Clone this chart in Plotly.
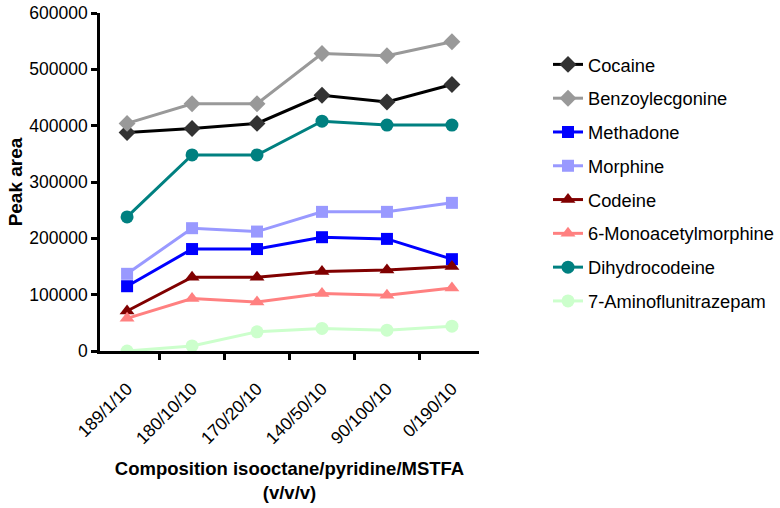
import plotly.graph_objects as go

categories = ["189/1/10", "180/10/10", "170/20/10", "140/50/10", "90/100/10", "0/190/10"]

cocaine = [388000, 395000, 404000, 454000, 442000, 473000]
benzoylecgonine = [404000, 439000, 439000, 528000, 524000, 549000]
methadone = [115000, 181000, 181000, 202000, 199000, 163000]
morphine = [137000, 218000, 212000, 247000, 247000, 263000]
codeine = [71000, 131000, 131000, 141000, 144000, 150000]
monoacetylmorphine = [58000, 93000, 87000, 102000, 99000, 112000]
dihydrocodeine = [238000, 348000, 348000, 408000, 401000, 401000]
aminoflunitrazepam = [0, 9000, 34000, 40000, 37000, 44000]

y_ticks = [0, 100000, 200000, 300000, 400000, 500000, 600000]

series = [
    ("Cocaine", cocaine, "#000000", "#333333", "diamond", 13),
    ("Benzoylecgonine", benzoylecgonine, "#999999", "#999999", "diamond", 13),
    ("Methadone", methadone, "#0000ff", "#0000ff", "square", 12),
    ("Morphine", morphine, "#9999ff", "#9999ff", "square", 12),
    ("Codeine", codeine, "#800000", "#800000", "triangle-up", 13),
    ("6-Monoacetylmorphine", monoacetylmorphine, "#ff8080", "#ff8080", "triangle-up", 13),
    ("Dihydrocodeine", dihydrocodeine, "#008080", "#008080", "circle", 13),
    ("7-Aminoflunitrazepam", aminoflunitrazepam, "#ccffcc", "#ccffcc", "circle", 13),
]

fig = go.Figure()
for name, vals, lc, mc, sym, sz in series:
    fig.add_trace(go.Scatter(
        x=categories, y=vals, name=name, mode="lines+markers",
        legendgroup=name,
        line=dict(color=lc, width=3),
        marker=dict(color=mc, symbol=sym, size=sz),
    ))

font_family = "Liberation Sans, Arial, sans-serif"
W, H = 780, 508
L, T, PW, PH = 100, 13, 379, 338
fig.update_layout(
    width=W, height=H,
    margin=dict(l=L, r=W - L - PW, t=T, b=H - T - PH, autoexpand=False),
    paper_bgcolor="white", plot_bgcolor="white",
    font=dict(family=font_family, size=17.5, color="black"),
    showlegend=True,
    legend=dict(
        x=(548 - L) / PW, xanchor="left", y=(T + PH - 46) / PH, yanchor="top",
        font=dict(size=18.3), tracegroupgap=7,
        traceorder="grouped", bgcolor="rgba(0,0,0,0)",
    ),
    xaxis=dict(
        type="category", tickson="boundaries", automargin=False,
        showline=True, linecolor="black", linewidth=2.5,
        ticks="outside", ticklen=6, tickwidth=2.5, tickcolor="black",
        tickangle=-45, showgrid=False, zeroline=False,
        ticklabelstandoff=18, tickfont=dict(size=17.5),
        ticklabeloverflow="allow",
        title=dict(text="<b>Composition isooctane/pyridine/MSTFA<br>(v/v/v)</b>",
                   font=dict(size=18.5), standoff=15),
    ),
    yaxis=dict(
        range=[0, 600000], tickvals=y_ticks, ticktext=[str(v) for v in y_ticks],
        automargin=False, ticklabeloverflow="allow",
        showline=True, linecolor="black", linewidth=2.5,
        ticks="outside", ticklen=6, tickwidth=2.5, tickcolor="black",
        showgrid=False, zeroline=False, tickfont=dict(size=17.5),
        title=dict(text="<b>Peak area</b>", font=dict(size=19), standoff=2),
    ),
)

# Remove the browser's default 8px page margin so the 780x508 figure fills the window.
fig.write_html("out.html", config={"displayModeBar": False},
               post_script="document.body.style.margin='0px';")
